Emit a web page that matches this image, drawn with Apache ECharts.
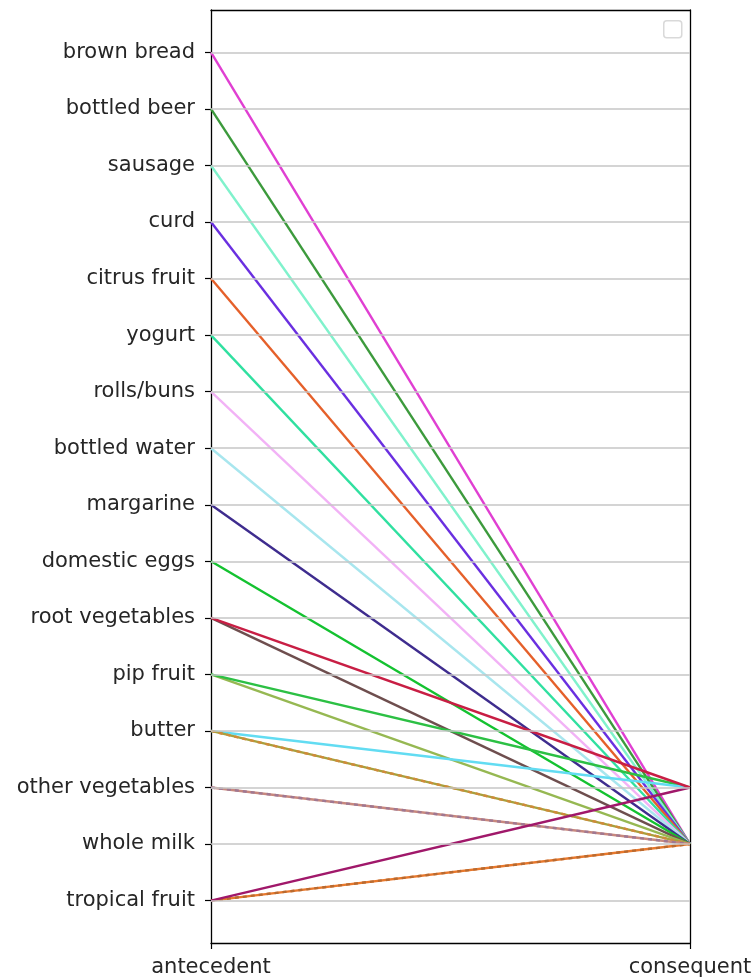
<!DOCTYPE html>
<html>
<head>
<meta charset="utf-8">
<script src="https://cdn.jsdelivr.net/npm/echarts@6/dist/echarts.min.js"></script>
<style>html,body{margin:0;padding:0;background:#fff;}#chart{width:753px;height:979px;}</style>
</head>
<body>
<div id="chart"></div>
<script>
// Category order on the y axis (bottom to top)
var categories = ['tropical fruit','whole milk','other vegetables','butter','pip fruit','root vegetables','domestic eggs','margarine','bottled water','rolls/buns','yogurt','citrus fruit','curd','sausage','bottled beer','brown bread'];
var columns = ['antecedent','consequent'];
// Rules (antecedent -> consequent)
var antecedents = ['brown bread','bottled beer','sausage','curd','citrus fruit','yogurt','rolls/buns','bottled water','margarine','domestic eggs','root vegetables','pip fruit','pip fruit','butter','butter','other vegetables','tropical fruit','tropical fruit','root vegetables'];
var consequents = ['whole milk','whole milk','whole milk','whole milk','whole milk','whole milk','whole milk','whole milk','whole milk','whole milk','whole milk','whole milk','other vegetables','other vegetables','whole milk','whole milk','whole milk','other vegetables','other vegetables'];
var lineColors = ['#e03fd2','#3c9a3c','#80f2cc','#6a2fe0','#e5602a','#30e0a0','#f2b2f6','#a8e6ee','#3e2c8e','#14c230','#6e4e4e','#96b852','#2cc044','#62dcf2','#a8a03c','#c8887e','#e8782c','#a0186a','#c81e44'];
var stripeColors = [null,null,null,null,null,null,null,null,null,null,null,null,null,null,'#d08a3a','#a07892','#b86a30',null,null];

var chart = echarts.init(document.getElementById('chart'));
var font = 'DejaVu Sans';
var ticks = categories.map(function(c, i){ return i; });

var series = [{
  type: 'line', data: [], z: 1, silent: true,
  markLine: {
    silent: true, symbol: 'none', animation: false,
    label: {show: false},
    lineStyle: {color: '#c6c6c6', width: 1.6, type: 'solid'},
    emphasis: {disabled: true},
    data: ticks.map(function(i){ return {yAxis: i}; })
  }
}];
antecedents.forEach(function(a, k){
  var pts = [[0, categories.indexOf(a)], [1, categories.indexOf(consequents[k])]];
  series.push({
    type: 'line', data: pts, z: 3, symbol: 'none', silent: true, animation: false,
    lineStyle: {color: lineColors[k], width: 2.4}
  });
  if (stripeColors[k]) {
    series.push({
      type: 'line', data: pts, z: 3, symbol: 'none', silent: true, animation: false,
      lineStyle: {color: stripeColors[k], width: 2.4, type: [4, 4]}
    });
  }
});

chart.setOption({
  animation: false,
  grid: {left: 211, right: 63, top: 10, bottom: 36, containLabel: false, outerBoundsMode: 'none'},
  xAxis: [{
    type: 'category', data: columns, boundaryGap: false,
    axisLine: {onZero: false, lineStyle: {color: '#000', width: 1.3}},
    axisTick: {show: true, length: 6, inside: false, lineStyle: {color: '#000', width: 1.2}},
    axisLabel: {fontFamily: font, fontSize: 21, color: '#262626', margin: 14},
    splitLine: {show: false}
  }, {
    type: 'category', data: columns, boundaryGap: false, position: 'top',
    axisLine: {onZero: false, lineStyle: {color: '#000', width: 1.3}},
    axisTick: {show: false}, axisLabel: {show: false}, splitLine: {show: false}
  }],
  yAxis: [{
    type: 'value', min: -0.75, max: 15.75,
    axisLine: {show: true, onZero: false, lineStyle: {color: '#000', width: 1.3}},
    axisTick: {show: true, length: 6, customValues: ticks, lineStyle: {color: '#000', width: 1.2}},
    axisLabel: {customValues: ticks, fontFamily: font, fontSize: 21, color: '#262626', margin: 16,
      formatter: function(v){ return categories[Math.round(v)] || ''; }},
    splitLine: {show: false}
  }, {
    type: 'value', min: -0.75, max: 15.75, position: 'right',
    axisLine: {show: true, onZero: false, lineStyle: {color: '#000', width: 1.3}},
    axisTick: {show: false}, axisLabel: {show: false}, splitLine: {show: false}
  }],
  graphic: [{
    type: 'rect', left: 663, top: 20, shape: {width: 18, height: 17, r: 3},
    style: {fill: '#fff', stroke: '#d9d9d9', lineWidth: 1.5}, silent: true
  }],
  series: series
});
</script>
</body>
</html>
